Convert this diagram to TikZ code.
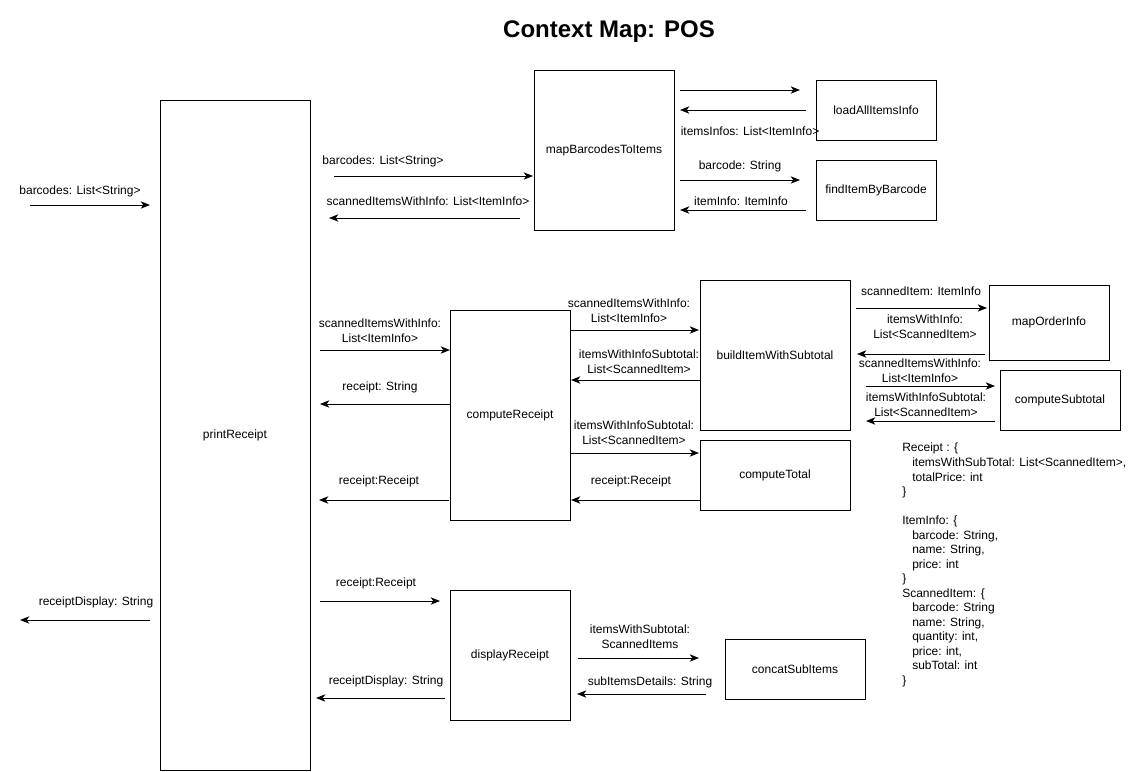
\documentclass[tikz,border=0pt]{standalone}
\usepackage{fontspec}
\setmainfont{Liberation Sans}
\usetikzlibrary{arrows.meta,fit}
\begin{document}
\begin{tikzpicture}[x=0.75pt,y=-0.75pt,
  box/.style={draw=black,line width=0.75pt,fill=white,inner sep=0pt},
  boxtext/.style={inner sep=0pt,font=\fontsize{9}{11}\selectfont},
  flow/.style={draw=black,line width=0.75pt,-{Stealth[length=7pt,width=5.5pt,inset=2pt]}},
  lbl/.style={inner sep=0pt,align=center,font=\fontsize{9}{11}\selectfont}]
\useasboundingbox (0,0) rectangle (1142,771);
\fill[white] (0,0) rectangle (1142,771);
\node[font=\bfseries\fontsize{18}{22}\selectfont,inner sep=0pt] (title) at (609,32) {Context Map: POS};
% boxes
\node[box,fit={(160,100)(310,770)}] (pr) {};
\node[box,fit={(534,70)(674,230)}] (mb) {};
\node[box,fit={(816,80)(936,140)}] (la) {};
\node[box,fit={(816,160)(936,220)}] (fb) {};
\node[box,fit={(450,310)(570,520)}] (cr) {};
\node[box,fit={(700,280)(850,430)}] (bw) {};
\node[box,fit={(989,285)(1109,360)}] (mo) {};
\node[box,fit={(1000,370)(1120,430)}] (cs) {};
\node[box,fit={(700,440)(850,510)}] (ct) {};
\node[box,fit={(450,590)(570,720)}] (dr) {};
\node[box,fit={(725,639)(865,699)}] (cc) {};
\node[boxtext] (prt) at (pr.center) {printReceipt};
\node[boxtext] (mbt) at (mb.center) {mapBarcodesToItems};
\node[boxtext] (lat) at (la.center) {loadAllItemsInfo};
\node[boxtext] (fbt) at (fb.center) {findItemByBarcode};
\node[boxtext] (crt) at (cr.center) {computeReceipt};
\node[boxtext] (bwt) at (bw.center) {buildItemWithSubtotal};
\node[boxtext] (mot) at (mo.center) {mapOrderInfo};
\node[boxtext] (cst) at (cs.center) {computeSubtotal};
\node[boxtext] (ctt) at (ct.center) {computeTotal};
\node[boxtext] (drt) at (dr.center) {displayReceipt};
\node[boxtext] (cct) at (cc.center) {concatSubItems};
% arrow end points
\coordinate (a1s) at (30,205);  \coordinate (a1e) at (150,205);
\coordinate (a2s) at (150,620); \coordinate (a2e) at (20,620);
\coordinate (a3s) at (334,176); \coordinate (a3e) at (533,176);
\coordinate (a4s) at (520,218); \coordinate (a4e) at (329,218);
\coordinate (a5s) at (680,90);  \coordinate (a5e) at (800,90);
\coordinate (a6s) at (806,110); \coordinate (a6e) at (680,110);
\coordinate (a7s) at (680,180); \coordinate (a7e) at (800,180);
\coordinate (a8s) at (806,210); \coordinate (a8e) at (680,210);
\coordinate (a9s) at (320,350); \coordinate (a9e) at (450,350);
\coordinate (a10s) at (450,404); \coordinate (a10e) at (320,404);
\coordinate (a11s) at (449,500); \coordinate (a11e) at (319,500);
\coordinate (a12s) at (570,330); \coordinate (a12e) at (699,330);
\coordinate (a13s) at (700,380); \coordinate (a13e) at (571,380);
\coordinate (a14s) at (570,453); \coordinate (a14e) at (699,453);
\coordinate (a15s) at (700,500); \coordinate (a15e) at (571,500);
\coordinate (a16s) at (856,308); \coordinate (a16e) at (987,308);
\coordinate (a17s) at (985,354); \coordinate (a17e) at (857,354);
\coordinate (a18s) at (866,386); \coordinate (a18e) at (995,386);
\coordinate (a19s) at (995,421); \coordinate (a19e) at (866,421);
\coordinate (a20s) at (320,601); \coordinate (a20e) at (440,601);
\coordinate (a21s) at (445,698); \coordinate (a21e) at (316,698);
\coordinate (a22s) at (578,658); \coordinate (a22e) at (699,658);
\coordinate (a23s) at (706,694); \coordinate (a23e) at (577,694);
\foreach \i in {1,...,23} {\draw[flow] (a\i s) -- (a\i e);}
% labels
\node[lbl] (l1) at (80,191) {barcodes: List<String>};
\node[lbl] (l2) at (96,602) {receiptDisplay: String};
\node[lbl] (l3) at (383,161) {barcodes: List<String>};
\node[lbl] (l4) at (428,201) {scannedItemsWithInfo: List<ItemInfo>};
\node[lbl] (l6) at (750,131) {itemsInfos: List<ItemInfo>};
\node[lbl] (l7) at (740,166) {barcode: String};
\node[lbl] (l8) at (741,201) {itemInfo: ItemInfo};
\node[lbl] (l9) at (380,331) {scannedItemsWithInfo:\\List<ItemInfo>};
\node[lbl] (l10) at (380,387) {receipt: String};
\node[lbl] (l11) at (379,481) {receipt:Receipt};
\node[lbl] (l12) at (629,311) {scannedItemsWithInfo:\\List<ItemInfo>};
\node[lbl] (l13) at (639,362) {itemsWithInfoSubtotal:\\List<ScannedItem>};
\node[lbl] (l14) at (634,433) {itemsWithInfoSubtotal:\\List<ScannedItem>};
\node[lbl] (l15) at (631,481) {receipt:Receipt};
\node[lbl] (l16) at (921,291) {scannedItem: ItemInfo};
\node[lbl] (l17) at (925,327) {itemsWithInfo:\\List<ScannedItem>};
\node[lbl] (l18) at (920,371) {scannedItemsWithInfo:\\List<ItemInfo>};
\node[lbl] (l19) at (926,405) {itemsWithInfoSubtotal:\\List<ScannedItem>};
\node[lbl] (l20) at (376,583) {receipt:Receipt};
\node[lbl] (l21) at (386,681) {receiptDisplay: String};
\node[lbl] (l22) at (640,637) {itemsWithSubtotal:\\ScannedItems};
\node[lbl] (l23) at (650,682) {subItemsDetails: String};
% data types
\node[lbl,align=left,anchor=north west,font=\fontsize{9}{10.9}\selectfont] (types) at (902,443) {%
Receipt : \{\\
\hspace*{7.5pt}itemsWithSubTotal: List<ScannedItem>,\\
\hspace*{7.5pt}totalPrice: int\\
\}\\[10.9pt]
ItemInfo: \{\\
\hspace*{7.5pt}barcode: String,\\
\hspace*{7.5pt}name: String,\\
\hspace*{7.5pt}price: int\\
\}\\
ScannedItem: \{\\
\hspace*{7.5pt}barcode: String\\
\hspace*{7.5pt}name: String,\\
\hspace*{7.5pt}quantity: int,\\
\hspace*{7.5pt}price: int,\\
\hspace*{7.5pt}subTotal: int\\
\}};
\end{tikzpicture}
\end{document}
